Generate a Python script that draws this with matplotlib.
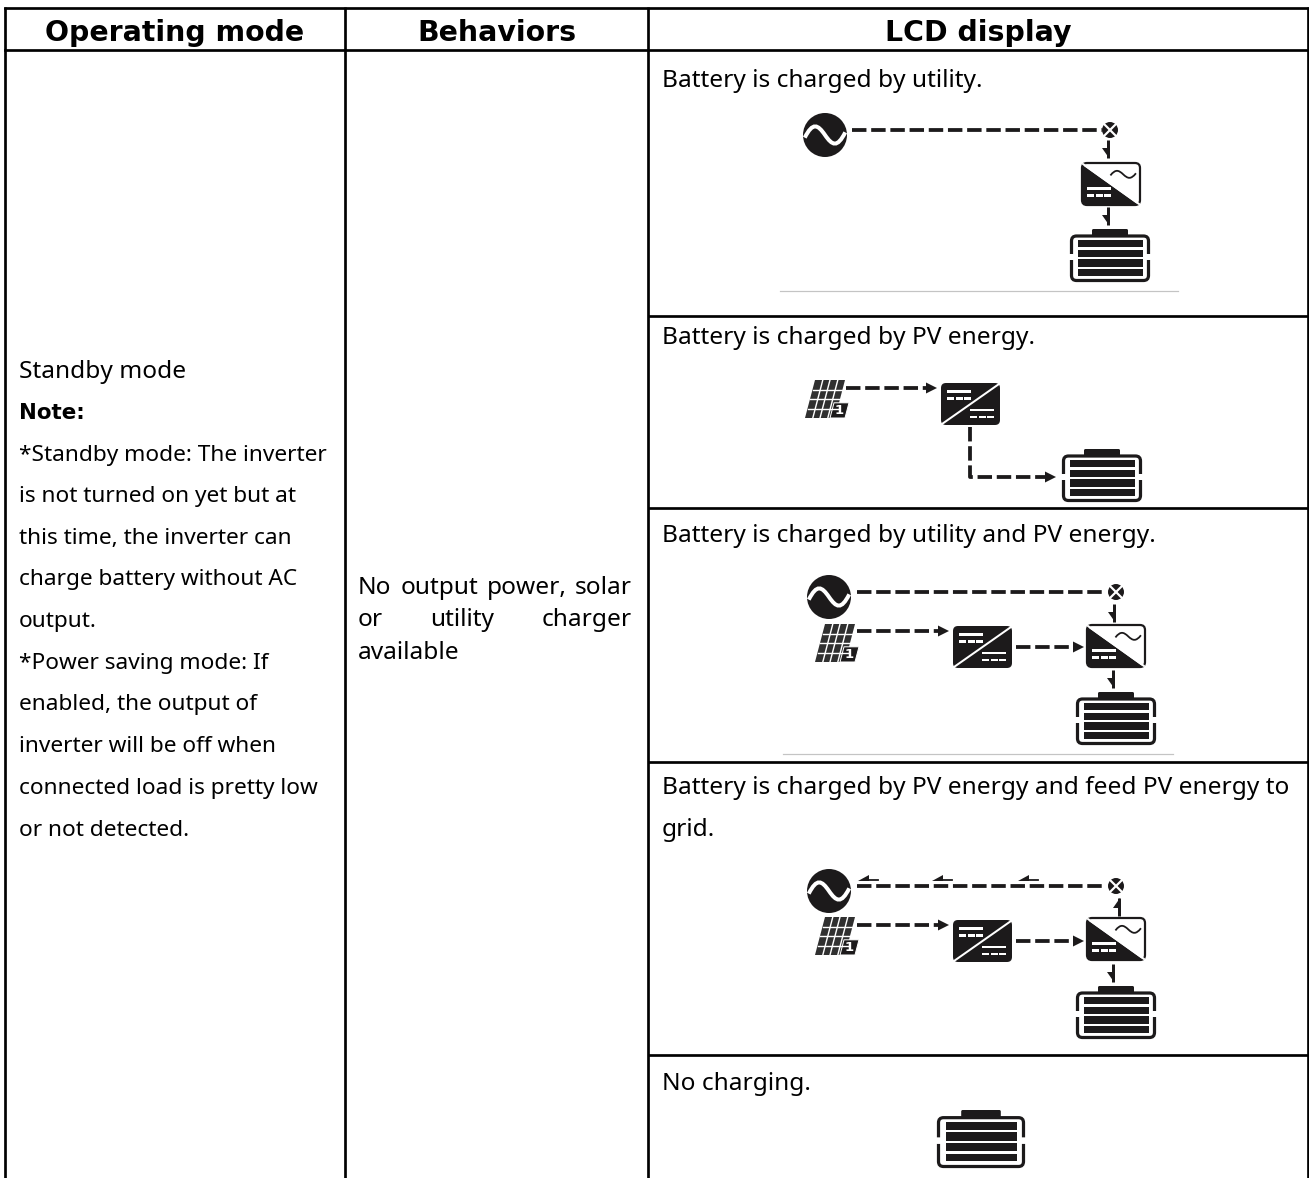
import matplotlib
matplotlib.use("Agg")
import matplotlib.pyplot as plt
from matplotlib.patches import Circle, FancyBboxPatch, Polygon, PathPatch, Rectangle
from matplotlib.path import Path

# Table content
headers = ["Operating mode", "Behaviors", "LCD display"]
header_x = [175, 497, 978]
mode_title = "Standby mode"
note_title = "Note:"
note_lines = ["*Standby mode: The inverter", "is not turned on yet but at",
              "this time, the inverter can", "charge battery without AC", "output.",
              "*Power saving mode: If", "enabled, the output of", "inverter will be off when",
              "connected load is pretty low", "or not detected."]
note_baselines = [461, 502, 544, 585, 627, 669, 710, 752, 794, 836]
behavior_lines = [["No", "output", "power,", "solar"], ["or", "utility", "charger"], ["available"]]
behavior_baselines = [594, 626, 659]
lcd_lines = ["Battery is charged by utility.", "Battery is charged by PV energy.",
             "Battery is charged by utility and PV energy.",
             "Battery is charged by PV energy and feed PV energy to", "grid.", "No charging."]
lcd_baselines = [87, 344, 542, 794, 836, 1090]
col_lines = [5, 345, 648, 1308]
row_lines = [316, 508, 762, 1055]

W, H = 1309, 1178
INK = "#1c1a1b"
FONT = "Noto Sans"

fig = plt.figure(figsize=(W / 100, H / 100), dpi=100)
ax = fig.add_axes([0, 0, 1, 1])
ax.set_xlim(0, W)
ax.set_ylim(H, 0)
ax.axis("off")


def px(v):
    return v * 0.72


def dash(xs, ys):
    ax.plot(xs, ys, color=INK, lw=px(3.8), ls=(0, (3.8, 1.25)), dash_capstyle="butt", solid_joinstyle="miter")


def head(x, y, dx, dy, size=11):
    # filled arrow head pointing along (dx, dy)
    ax.add_patch(Polygon([(x + dx * size, y + dy * size),
                          (x - dy * size * 0.5, y + dx * size * 0.5),
                          (x + dy * size * 0.5, y - dx * size * 0.5)], closed=True, fc=INK, ec="none"))


def half_arrow(x, y0, y1):
    # short arrow with a barb on the left side only
    s = 1 if y1 > y0 else -1
    ax.plot([x, x], [y0, y1], color=INK, lw=px(3), solid_capstyle="butt")
    ax.add_patch(Polygon([(x + 1, y1), (x - 6, y1 - s * 10), (x + 1, y1 - s * 10)], closed=True, fc=INK, ec="none"))


def squiggle(x0, y, w, amp, color="white", lw=4):
    verts = [(x0, y + amp * 0.3), (x0 + w * 0.2, y - amp * 1.5), (x0 + w * 0.32, y - amp * 1.2),
             (x0 + w * 0.5, y), (x0 + w * 0.68, y + amp * 1.2), (x0 + w * 0.8, y + amp * 1.5), (x0 + w, y - amp * 0.3)]
    codes = [Path.MOVETO] + [Path.CURVE4] * 6
    ax.add_patch(PathPatch(Path(verts, codes), fc="none", ec=color, lw=px(lw)))


def ac_source(cx, cy, r=22):
    ax.add_patch(Circle((cx, cy), r, fc=INK, ec="none"))
    squiggle(cx - r * 0.92, cy, r * 1.84, r * 0.4)


def junction(cx, cy, r=8):
    ax.add_patch(Circle((cx, cy), r, fc=INK, ec="none"))
    d = r * 0.75
    ax.plot([cx - d, cx + d], [cy - d, cy + d], color="white", lw=px(2.2))
    ax.plot([cx - d, cx + d], [cy + d, cy - d], color="white", lw=px(2.2))


def bars(x, y, w):
    ax.add_patch(Rectangle((x, y), w, 2.6, fc="white", ec="none"))
    for k in range(3):
        ax.add_patch(Rectangle((x + k * (w + 1.5) / 3, y + 7), (w + 1.5) / 3 - 1.5, 2.6, fc="white", ec="none"))


def inverter_ac(x0, y0, w=58, h=42):
    box = FancyBboxPatch((x0 + 3, y0 + 3), w - 6, h - 6, boxstyle="round,pad=3,rounding_size=5",
                         fc="white", ec=INK, lw=px(2.2))
    ax.add_patch(box)
    tri = Polygon([(x0 - 1, y0 + 1), (x0 + w, y0 + h + 1), (x0 - 1, y0 + h + 1)], closed=True, fc=INK, ec="none")
    ax.add_patch(tri)
    tri.set_clip_path(box)
    ax.plot([x0 + 1, x0 + w - 1], [y0 + 1, y0 + h - 1], color="white", lw=px(2))
    squiggle(x0 + w * 0.49, y0 + h * 0.27, w * 0.44, 3.6, color=INK, lw=1.8)
    bars(x0 + 5, y0 + h * 0.58, 24)


def inverter_dc(x0, y0, w=59, h=42):
    ax.add_patch(FancyBboxPatch((x0 + 3, y0 + 3), w - 6, h - 6, boxstyle="round,pad=3,rounding_size=5",
                                fc=INK, ec="none"))
    ax.plot([x0 + 1, x0 + w - 1], [y0 + h - 1, y0 + 1], color="white", lw=px(2))
    bars(x0 + 6, y0 + 7, 24)
    bars(x0 + 29, y0 + h * 0.61, 24)


def panel(x0, y0, w=44, h=38):
    skew = 10
    ax.add_patch(Polygon([(x0 + skew, y0), (x0 + w - 4, y0), (x0 + w - skew - 4, y0 + h), (x0, y0 + h)],
                         closed=True, fc="#303030", ec="none"))
    for k in range(1, 4):
        f = k / 4
        ax.plot([x0 + skew * (1 - f), x0 + w - 4 - skew * f], [y0 + h * f] * 2, color="white", lw=px(1.4))
    for k in [0.26, 0.5, 0.76]:
        xt = x0 + skew + (w - 4 - skew) * k
        ax.plot([xt, xt - skew], [y0, y0 + h], color="white", lw=px(1.4))
    ax.add_patch(Polygon([(x0 + w - 15, y0 + h * 0.6), (x0 + w, y0 + h * 0.6), (x0 + w - 4, y0 + h), (x0 + w - 19, y0 + h)],
                         closed=True, fc=INK, ec="white", lw=px(1)))
    ax.text(x0 + w - 10, y0 + h * 0.81, "1", color="white", fontsize=9.5, fontweight="bold",
            family="DejaVu Sans", ha="center", va="center")


def battery(x0, y0, w=80, h=53):
    sx, sy = w / 80, h / 53
    ax.add_patch(FancyBboxPatch((x0 + 22 * sx, y0), 36 * sx, 7 * sy, boxstyle="round,pad=0,rounding_size=1.5",
                                fc=INK, ec="none"))
    top = y0 + 7 * sy
    bot = y0 + h - 1.5
    gap0, gap1 = y0 + 25 * sy, y0 + 31 * sy
    left, right = x0 + 1.5, x0 + w - 1.5
    r = 5
    verts_top = [(left, gap0), (left, top + r), (left, top), (left + r, top), (right - r, top), (right, top),
                 (right, top + r), (right, gap0)]
    codes_top = [Path.MOVETO, Path.LINETO, Path.CURVE3, Path.CURVE3, Path.LINETO, Path.CURVE3, Path.CURVE3, Path.LINETO]
    verts_bot = [(left, gap1), (left, bot - r), (left, bot), (left + r, bot), (right - r, bot), (right, bot),
                 (right, bot - r), (right, gap1)]
    for v in (verts_top, verts_bot):
        ax.add_patch(PathPatch(Path(v, codes_top), fc="none", ec=INK, lw=px(3.2), capstyle="butt"))
    for b0, b1 in [(11, 18), (20.5, 28), (30, 37.5), (40, 47)]:
        ax.add_patch(Rectangle((x0 + 8 * sx, y0 + b0 * sy), 65 * sx, (b1 - b0) * sy, fc=INK, ec="none"))


# Table lines
ax.plot([col_lines[0], col_lines[-1]], [8, 8], color="black", lw=px(2.7))
ax.plot([col_lines[0], col_lines[-1]], [50, 50], color="black", lw=px(2.7))
for x in col_lines:
    ax.plot([x, x], [8 - 1.3, H], color="black", lw=px(2.7), solid_capstyle="butt")
for y in row_lines:
    ax.plot([col_lines[2], col_lines[3]], [y, y], color="black", lw=px(2.7), solid_capstyle="butt")
ax.plot([780, 1178], [290.5, 290.5], color="#c4c4c4", lw=px(1.2))
ax.plot([783, 1173], [754, 754], color="#c4c4c4", lw=px(1.2))

# Text
for x, s in zip(header_x, headers):
    ax.text(x, 41, s, fontsize=20.4, fontweight="bold", family="DejaVu Sans", ha="center", va="baseline")
ax.text(19, 378, mode_title, fontsize=17.6, family=FONT, va="baseline")
ax.text(19, 419, note_title, fontsize=15.4, fontweight="bold", family="DejaVu Sans", va="baseline")
for s, y in zip(note_lines, note_baselines):
    ax.text(19, y, s, fontsize=16.3, family=FONT, va="baseline")
for s, y in zip(lcd_lines, lcd_baselines):
    ax.text(662, y, s, fontsize=17.6, family=FONT, va="baseline")

# Behaviors column is justified
renderer = fig.canvas.get_renderer()
for words, y in zip(behavior_lines, behavior_baselines):
    items = [ax.text(358, y, w, fontsize=17.6, family=FONT, va="baseline") for w in words]
    if len(items) > 1:
        widths = [t.get_window_extent(renderer).width for t in items]
        space = (632 - 358 - sum(widths)) / (len(items) - 1)
        pos = 358
        for t, wd in zip(items, widths):
            t.set_x(pos)
            pos += wd + space

# Diagram 1: charged by utility
ac_source(825, 135)
dash([852, 1102], [130, 130])
junction(1110, 130)
half_arrow(1108, 140, 158)
inverter_ac(1082, 163)
half_arrow(1108, 207, 225)
battery(1070, 229)

# Diagram 2: charged by PV
panel(805, 380)
dash([846, 926], [388, 388])
head(926, 388, 1, 0)
inverter_dc(941, 383)
dash([970, 970, 1045], [427, 477, 477])
head(1045, 477, 1, 0)
battery(1062, 449)

# Diagram 3: utility and PV
ac_source(829, 597)
dash([857, 1106], [592, 592])
junction(1116, 592)
half_arrow(1114, 604, 622)
panel(815, 624)
dash([857, 938], [631, 631])
head(938, 631, 1, 0)
inverter_dc(953, 626)
dash([1016, 1073], [647, 647])
head(1073, 647, 1, 0)
inverter_ac(1087, 625)
half_arrow(1113, 670, 688)
battery(1076, 692)

# Diagram 4: PV to battery and grid
ac_source(829, 891)
dash([857, 1106], [886, 886])
for x in [858, 932, 1018]:
    ax.add_patch(Polygon([(x, 881), (x + 11, 875), (x + 11, 881)], closed=True, fc=INK, ec="none"))
    ax.plot([x + 8, x + 20], [880, 880], color=INK, lw=px(1.8))
junction(1116, 886)
half_arrow(1119, 916, 898)
panel(815, 917)
dash([857, 938], [925, 925])
head(938, 925, 1, 0)
inverter_dc(953, 920)
dash([1016, 1073], [941, 941])
head(1073, 941, 1, 0)
inverter_ac(1087, 918)
half_arrow(1113, 964, 982)
battery(1076, 986)

# Diagram 5: no charging
battery(937, 1110, w=88, h=58)

fig.savefig("out.png", dpi=100)
